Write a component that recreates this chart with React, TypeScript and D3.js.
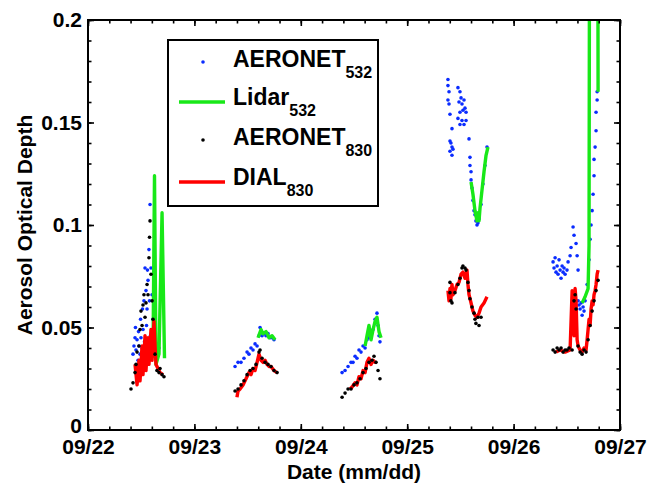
import * as d3 from "d3"
import { useRef, useEffect } from "react"

// day of month (09/dd, fractional), aerosol optical depth
const dayTicks = [22, 23, 24, 25, 26, 27]
const dayLabels = ["09/22", "09/23", "09/24", "09/25", "09/26", "09/27"]
const aodTicks = [0, 0.05, 0.1, 0.15, 0.2]
const aodLabels = ["0", "0.05", "0.1", "0.15", "0.2"]

const aeronet532: [number, number][] = [
  [22.423,0.037],[22.432,0.041],[22.442,0.045],[22.446,0.050],[22.451,0.039],[22.461,0.044],[22.470,0.034],[22.475,0.048],
  [22.479,0.041],[22.489,0.037],[22.494,0.054],[22.498,0.045],[22.508,0.040],[22.512,0.059],[22.517,0.049],[22.526,0.063],
  [22.531,0.043],[22.536,0.079],[22.545,0.068],[22.550,0.051],[22.555,0.059],[22.559,0.078],[22.564,0.073],[22.573,0.088],
  [22.578,0.063],[22.583,0.110],[22.587,0.046],[22.592,0.079],[22.602,0.066],[22.606,0.039],[22.611,0.054],[22.620,0.044],
  [22.630,0.041],[22.648,0.041],[22.667,0.040],
  [23.382,0.031],[23.410,0.033],[23.438,0.033],[23.466,0.035],[23.495,0.038],[23.513,0.037],[23.532,0.040],[23.551,0.039],
  [23.570,0.042],[23.589,0.041],[23.607,0.046],[23.617,0.050],[23.636,0.046],[23.654,0.047],[23.673,0.046],[23.692,0.047],
  [23.711,0.045],[23.730,0.045],[23.748,0.044],
  [24.388,0.028],[24.416,0.029],[24.444,0.031],[24.472,0.033],[24.491,0.033],[24.510,0.036],[24.528,0.035],[24.547,0.039],
  [24.566,0.038],[24.585,0.041],[24.604,0.040],[24.622,0.044],[24.641,0.045],[24.660,0.048],[24.679,0.049],[24.698,0.054],
  [24.716,0.057],[24.726,0.051],[24.735,0.046],[24.744,0.043],
  [25.383,0.171],[25.383,0.168],[25.393,0.165],[25.383,0.161],[25.393,0.159],[25.402,0.154],[25.421,0.147],[25.402,0.141],
  [25.411,0.140],[25.421,0.138],[25.430,0.137],[25.421,0.134],[25.402,0.136],
  [25.477,0.167],[25.496,0.165],[25.506,0.162],[25.487,0.160],[25.515,0.159],[25.524,0.156],[25.534,0.161],[25.543,0.157],
  [25.553,0.155],[25.496,0.155],[25.515,0.151],[25.534,0.149],[25.477,0.152],[25.496,0.149],[25.553,0.151],
  [25.581,0.142],[25.590,0.133],[25.590,0.129],[25.600,0.126],[25.600,0.122],[25.609,0.118],[25.618,0.112],[25.628,0.107],
  [25.637,0.105],[25.646,0.102],[25.656,0.100],[25.665,0.101],[25.675,0.103],[25.694,0.110],[25.712,0.120],[25.731,0.129],
  [25.750,0.138],
  [26.371,0.082],[26.380,0.079],[26.390,0.084],[26.399,0.077],[26.409,0.080],[26.418,0.076],[26.427,0.083],[26.437,0.078],
  [26.446,0.074],[26.456,0.080],[26.465,0.077],[26.474,0.079],[26.484,0.076],[26.502,0.078],[26.512,0.082],[26.531,0.085],
  [26.540,0.089],[26.559,0.099],[26.568,0.095],[26.587,0.091],[26.597,0.085],[26.606,0.078],[26.606,0.063],[26.615,0.061],
  [26.625,0.059],[26.634,0.062],[26.644,0.056],[26.653,0.060],[26.662,0.058],[26.672,0.063],[26.691,0.071],[26.709,0.083],
  [26.719,0.093],[26.728,0.100],[26.738,0.107],[26.747,0.115],[26.756,0.124],[26.756,0.132],[26.766,0.138],[26.775,0.146],
  [26.775,0.155],[26.785,0.161],[26.785,0.165],
]

const lidar532: [number, number][] = [
  [22.583,0.034],[22.611,0.037],[22.625,0.124],[22.639,0.032],[22.667,0.037],[22.696,0.106],[22.719,0.035],
  [23.598,0.045],[23.626,0.049],[23.645,0.047],[23.673,0.048],[23.701,0.045],[23.730,0.046],[23.758,0.044],
  [24.604,0.041],[24.622,0.046],[24.641,0.051],[24.660,0.044],[24.679,0.049],[24.698,0.053],[24.716,0.055],[24.735,0.048],[24.754,0.045],
  [25.600,0.121],[25.618,0.115],[25.637,0.107],[25.656,0.102],[25.665,0.106],[25.675,0.102],[25.684,0.108],[25.703,0.117],
  [25.722,0.126],[25.741,0.134],[25.759,0.138],
  [26.644,0.062],[26.672,0.065],[26.700,0.069],[26.709,0.090],[26.715,0.300],[26.790,0.300],[26.794,0.165],
]

const aeronet830: [number, number][] = [
  [22.404,0.020],[22.423,0.023],[22.442,0.028],[22.451,0.032],[22.461,0.038],[22.479,0.041],[22.489,0.049],[22.498,0.058],
  [22.508,0.051],[22.517,0.061],[22.526,0.066],[22.536,0.055],[22.545,0.062],[22.555,0.071],[22.564,0.066],[22.573,0.084],
  [22.578,0.094],[22.583,0.102],[22.592,0.076],[22.602,0.063],[22.611,0.054],[22.630,0.037],[22.648,0.029],[22.667,0.028],
  [22.677,0.030],[22.696,0.027],[22.714,0.026],
  [23.382,0.019],[23.410,0.020],[23.438,0.022],[23.466,0.024],[23.495,0.027],[23.523,0.029],[23.551,0.030],[23.579,0.032],
  [23.607,0.038],[23.617,0.039],[23.636,0.035],[23.664,0.033],[23.692,0.032],[23.720,0.031],[23.748,0.029],[23.777,0.028],
  [24.388,0.016],[24.416,0.018],[24.444,0.020],[24.472,0.020],[24.500,0.022],[24.528,0.023],[24.557,0.025],[24.585,0.028],
  [24.613,0.030],[24.641,0.033],[24.669,0.034],[24.688,0.036],[24.707,0.033],[24.726,0.029],[24.744,0.025],
  [25.402,0.072],[25.402,0.067],[25.411,0.063],[25.421,0.062],[25.449,0.067],[25.477,0.071],[25.496,0.074],[25.515,0.079],
  [25.524,0.080],[25.543,0.079],[25.553,0.078],[25.571,0.072],[25.581,0.068],[25.590,0.064],[25.609,0.060],[25.628,0.057],
  [25.637,0.054],[25.646,0.052],[25.665,0.055],[25.675,0.051],[25.694,0.055],
  [26.371,0.039],[26.390,0.038],[26.409,0.040],[26.427,0.039],[26.446,0.040],[26.465,0.038],[26.484,0.039],[26.502,0.039],
  [26.521,0.040],[26.550,0.039],[26.568,0.063],[26.578,0.066],[26.587,0.059],[26.606,0.041],[26.625,0.038],[26.644,0.037],
  [26.662,0.039],[26.681,0.038],[26.700,0.044],[26.719,0.051],[26.738,0.058],[26.756,0.063],[26.775,0.068],[26.794,0.073],
]

const dial830: [number, number][] = [
  [22.442,0.032],[22.461,0.022],[22.479,0.034],[22.489,0.024],[22.508,0.041],[22.517,0.027],[22.536,0.046],[22.545,0.029],
  [22.564,0.045],[22.573,0.032],[22.592,0.049],[22.602,0.034],[22.620,0.053],[22.630,0.041],[22.639,0.032],[22.677,0.028],
  [22.705,0.027],
  [23.400,0.016],[23.410,0.019],[23.429,0.020],[23.457,0.022],[23.485,0.025],[23.513,0.028],[23.532,0.027],[23.551,0.030],
  [23.570,0.029],[23.589,0.033],[23.607,0.037],[23.626,0.034],[23.645,0.033],[23.664,0.034],[23.683,0.032],[23.701,0.031],
  [23.720,0.031],[23.748,0.029],[23.777,0.028],
  [24.463,0.020],[24.482,0.021],[24.510,0.023],[24.528,0.022],[24.547,0.026],[24.566,0.025],[24.585,0.029],[24.604,0.028],
  [24.622,0.033],[24.641,0.035],[24.660,0.032],[24.679,0.034],[24.698,0.033],[24.716,0.033],
  [25.383,0.068],[25.393,0.063],[25.402,0.069],[25.411,0.064],[25.421,0.071],[25.430,0.066],[25.449,0.068],[25.468,0.071],
  [25.487,0.072],[25.506,0.076],[25.524,0.077],[25.543,0.074],[25.562,0.078],[25.571,0.071],[25.581,0.066],[25.600,0.062],
  [25.618,0.058],[25.637,0.056],[25.656,0.055],[25.675,0.057],[25.694,0.060],[25.722,0.062],[25.750,0.065],
  [26.399,0.038],[26.437,0.039],[26.484,0.038],[26.531,0.039],[26.550,0.068],[26.559,0.063],[26.568,0.046],[26.578,0.069],
  [26.587,0.063],[26.597,0.044],[26.606,0.041],[26.625,0.039],[26.644,0.038],[26.662,0.040],[26.681,0.039],[26.691,0.044],
  [26.700,0.049],[26.709,0.054],[26.719,0.051],[26.728,0.059],[26.738,0.063],[26.747,0.061],[26.756,0.066],[26.766,0.068],
  [26.775,0.071],[26.785,0.076],[26.794,0.078],
]

const legendNames = ["AERONET", "Lidar", "AERONET", "DIAL"]
const legendSubs = ["532", "532", "830", "830"]

const BLUE = "#0a2cff"
const GREEN = "#18e818"
const RED = "#ff0000"
const FONT = "'Liberation Sans', Arial, Helvetica, sans-serif"

// break a series where the measurement days change
function segments(pts: [number, number][]) {
  const out: [number, number][][] = []
  let cur: [number, number][] = []
  pts.forEach((p, i) => {
    if (i > 0 && p[0] - pts[i - 1][0] > 0.3) {
      out.push(cur)
      cur = []
    }
    cur.push(p)
  })
  out.push(cur)
  return out
}

export default function App() {
  const ref = useRef<SVGSVGElement>(null)

  useEffect(() => {
    const width = 650
    const height = 485
    const marginTop = 20
    const marginRight = 30
    const marginBottom = 55
    const marginLeft = 88

    const x = d3.scaleLinear().domain([22, 27]).range([marginLeft, width - marginRight])
    const y = d3.scaleLinear().domain([0, 0.2]).range([height - marginBottom, marginTop])

    const svg = d3.select(ref.current)
    svg.selectAll("*").remove()
    svg.attr("width", width).attr("height", height)

    svg.append("rect").attr("width", width).attr("height", height).attr("fill", "white")

    svg.append("clipPath").attr("id", "plot-clip")
      .append("rect")
      .attr("x", marginLeft).attr("y", marginTop)
      .attr("width", width - marginRight - marginLeft)
      .attr("height", height - marginBottom - marginTop)

    const plot = svg.append("g").attr("clip-path", "url(#plot-clip)")

    const line = d3.line<[number, number]>().x(d => x(d[0])).y(d => y(d[1]))

    plot.append("g")
      .attr("fill", BLUE)
      .selectAll("circle")
      .data(aeronet532)
      .join("circle")
      .attr("cx", d => x(d[0]))
      .attr("cy", d => y(d[1]))
      .attr("r", 1.8)

    plot.append("g")
      .selectAll("path")
      .data(segments(lidar532))
      .join("path")
      .attr("d", d => line(d))
      .attr("fill", "none")
      .attr("stroke", GREEN)
      .attr("stroke-width", 3.4)
      .attr("stroke-linejoin", "round")

    plot.append("g")
      .selectAll("path")
      .data(segments(dial830))
      .join("path")
      .attr("d", d => line(d))
      .attr("fill", "none")
      .attr("stroke", RED)
      .attr("stroke-width", 3.4)
      .attr("stroke-linejoin", "round")

    plot.append("g")
      .attr("fill", "black")
      .selectAll("circle")
      .data(aeronet830)
      .join("circle")
      .attr("cx", d => x(d[0]))
      .attr("cy", d => y(d[1]))
      .attr("r", 1.8)

    // axes, MATLAB style: ticks inward on all four sides
    const minorX = d3.range(0, 26).map(i => 22 + i * 0.2)
    const minorY = d3.range(0, 21).map(i => i * 0.01)

    const styleAxis = (g: any) => {
      g.select(".domain").remove()
      g.selectAll("line").attr("stroke", "black").attr("stroke-width", 1.6)
      g.selectAll("text").attr("fill", "black")
      g.attr("font-family", FONT).attr("font-size", 21).attr("font-weight", "bold")
    }

    svg.append("g")
      .attr("transform", `translate(0,${height - marginBottom})`)
      .call(d3.axisBottom(x).tickValues(minorX).tickSizeInner(-3.5).tickSizeOuter(0).tickFormat(() => ""))
      .call(styleAxis)
    svg.append("g")
      .attr("transform", `translate(0,${height - marginBottom})`)
      .call(d3.axisBottom(x).tickValues(dayTicks).tickSizeInner(-6).tickSizeOuter(0).tickPadding(9)
        .tickFormat((d, i) => dayLabels[i]))
      .call(styleAxis)
    svg.append("g")
      .attr("transform", `translate(0,${marginTop})`)
      .call(d3.axisTop(x).tickValues(minorX).tickSizeInner(-3.5).tickSizeOuter(0).tickFormat(() => ""))
      .call(styleAxis)
    svg.append("g")
      .attr("transform", `translate(0,${marginTop})`)
      .call(d3.axisTop(x).tickValues(dayTicks).tickSizeInner(-6).tickSizeOuter(0).tickFormat(() => ""))
      .call(styleAxis)

    svg.append("g")
      .attr("transform", `translate(${marginLeft},0)`)
      .call(d3.axisLeft(y).tickValues(minorY).tickSizeInner(-3.5).tickSizeOuter(0).tickFormat(() => ""))
      .call(styleAxis)
    const yAxis = svg.append("g")
      .attr("transform", `translate(${marginLeft},0)`)
      .call(d3.axisLeft(y).tickValues(aodTicks).tickSizeInner(-6).tickSizeOuter(0).tickPadding(6)
        .tickFormat((d, i) => aodLabels[i]))
      .call(styleAxis)
    // lift the "0" a little so it clears the first date label
    yAxis.selectAll("text").filter((d: any) => d === 0).attr("dy", "0.1em")

    svg.append("g")
      .attr("transform", `translate(${width - marginRight},0)`)
      .call(d3.axisRight(y).tickValues(minorY).tickSizeInner(-3.5).tickSizeOuter(0).tickFormat(() => ""))
      .call(styleAxis)
    svg.append("g")
      .attr("transform", `translate(${width - marginRight},0)`)
      .call(d3.axisRight(y).tickValues(aodTicks).tickSizeInner(-6).tickSizeOuter(0).tickFormat(() => ""))
      .call(styleAxis)

    svg.append("rect")
      .attr("x", marginLeft).attr("y", marginTop)
      .attr("width", width - marginRight - marginLeft)
      .attr("height", height - marginBottom - marginTop)
      .attr("fill", "none")
      .attr("stroke", "black")
      .attr("stroke-width", 2)

    svg.append("text")
      .attr("x", (marginLeft + width - marginRight) / 2)
      .attr("y", 479)
      .attr("text-anchor", "middle")
      .attr("font-family", FONT).attr("font-size", 21).attr("font-weight", "bold")
      .text("Date (mm/dd)")

    svg.append("text")
      .attr("transform", `translate(32,${(marginTop + height - marginBottom) / 2}) rotate(-90)`)
      .attr("text-anchor", "middle")
      .attr("font-family", FONT).attr("font-size", 21).attr("font-weight", "bold")
      .text("Aerosol Optical Depth")

    // legend
    const legend = svg.append("g").attr("transform", "translate(168,40)")
    legend.append("rect")
      .attr("width", 210).attr("height", 166)
      .attr("fill", "white").attr("stroke", "black").attr("stroke-width", 2)

    const rowY = [27, 65, 105, 145]
    legendNames.forEach((name, i) => {
      const ry = rowY[i]
      if (i === 0 || i === 2) {
        legend.append("circle")
          .attr("cx", 35).attr("cy", ry - 5).attr("r", 1.8)
          .attr("fill", i === 0 ? BLUE : "black")
      } else {
        legend.append("line")
          .attr("x1", 11).attr("x2", 57).attr("y1", ry - 3).attr("y2", ry - 3)
          .attr("stroke", i === 1 ? GREEN : RED).attr("stroke-width", 3.4)
      }
      const t = legend.append("text")
        .attr("x", 65).attr("y", ry)
        .attr("font-family", FONT).attr("font-weight", "bold").attr("font-size", 23)
      t.append("tspan").text(name)
      t.append("tspan").attr("dy", 11).attr("font-size", 16).text(legendSubs[i])
    })
  }, [])

  return (
    <svg ref={ref} style={{ position: "absolute", left: 0, top: 0 }}></svg>
  )
}
